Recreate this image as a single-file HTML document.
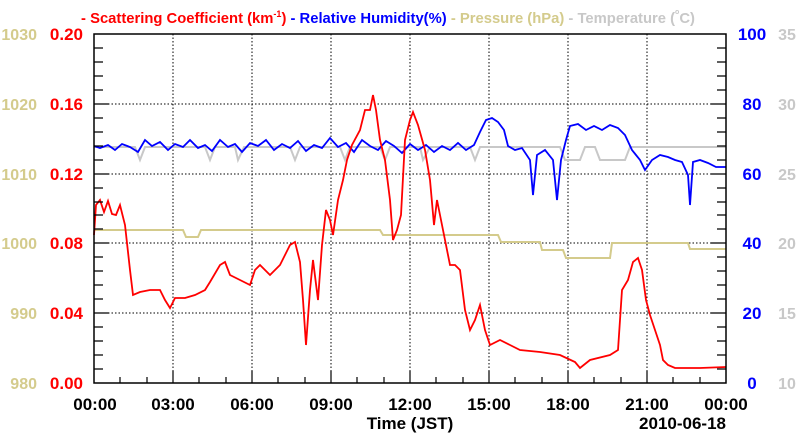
<!DOCTYPE html>
<html><head><meta charset="utf-8"><style>
body{margin:0;background:#fff}
text{font-family:"Liberation Sans",Arial,sans-serif;font-weight:bold}
</style></head><body>
<svg width="800" height="434" viewBox="0 0 800 434" xmlns="http://www.w3.org/2000/svg">
<rect width="800" height="434" fill="#fff"/>
<text x="388" y="23" font-size="14.8" text-anchor="middle"><tspan fill="#f00">- Scattering Coefficient (km</tspan><tspan fill="#f00" font-size="9" dy="-6">-1</tspan><tspan fill="#f00" dy="6">)</tspan><tspan fill="#00f"> - Relative Humidity(%)</tspan><tspan fill="#d4cb8c"> - Pressure (hPa)</tspan><tspan fill="#c8c8c8"> - Temperature (</tspan><tspan fill="#c8c8c8" font-size="7" dy="-9">o</tspan><tspan fill="#c8c8c8" dy="9">C)</tspan></text>
<g stroke="#000" stroke-width="1" stroke-dasharray="1.5,2">
<line x1="173" y1="34" x2="173" y2="383"/><line x1="252" y1="34" x2="252" y2="383"/><line x1="331" y1="34" x2="331" y2="383"/><line x1="410" y1="34" x2="410" y2="383"/><line x1="489" y1="34" x2="489" y2="383"/><line x1="568" y1="34" x2="568" y2="383"/><line x1="647" y1="34" x2="647" y2="383"/>
<line x1="94" y1="104" x2="726" y2="104"/><line x1="94" y1="174" x2="726" y2="174"/><line x1="94" y1="243" x2="726" y2="243"/><line x1="94" y1="313" x2="726" y2="313"/>
</g>
<polyline fill="none" stroke="#c8c8c8" stroke-width="2" points="94,147 135,147 140,160 145,147 205,147 210,160 215,147 235,147 238,160 244,147 290,147 295,160 300,147 340,147 345,160 350,147 380,147 385,160 390,147 420,147 423,160 430,147 470,147 475,160 480,147 560,147 565,160 580,160 585,147 595,147 600,160 625,160 630,147 726,147"/>
<polyline fill="none" stroke="#d4cb8c" stroke-width="2" points="94,230 183,230 186,237 198,237 201,230 380,230 383,235 498,235 501,242 540,242 542,250 563,250 566,258 610,258 612,243 688,243 690,249 726,249"/>
<polyline fill="none" stroke="#00f" stroke-width="1.8" points="94,146 100,148 108,145 115,150 122,144 130,147 138,152 145,140 152,146 160,142 168,150 175,144 183,147 190,140 198,148 205,145 212,151 220,140 228,147 235,144 242,152 250,143 258,146 266,140 274,150 282,144 290,148 298,141 306,151 314,145 322,148 330,138 338,147 346,143 354,152 362,140 370,146 378,150 386,141 394,146 402,153 410,144 418,150 426,145 434,152 442,146 450,150 458,143 466,150 474,145 480,132 486,120 492,118 498,122 504,130 508,146 515,150 522,148 530,160 533,195 537,155 545,150 553,160 557,200 561,160 566,140 570,126 578,124 586,130 594,126 602,130 610,125 618,128 625,135 632,150 640,160 645,170 652,160 660,155 668,157 675,160 682,162 688,175 690,205 693,162 700,160 708,163 716,167 726,167"/>
<polyline fill="none" stroke="#f00" stroke-width="1.8" points="94,235 96,205 100,200 104,212 108,201 112,214 116,215 120,205 125,225 130,270 133,295 140,292 150,290 160,290 165,300 170,308 175,298 185,298 195,295 205,290 210,282 220,265 225,262 230,275 240,280 250,285 255,270 260,265 270,275 280,265 285,255 290,245 295,242 300,262 303,300 306,345 310,290 313,260 318,300 322,245 326,210 330,220 333,235 338,200 343,180 347,160 352,145 360,130 365,110 370,110 373,95 376,110 380,140 385,160 390,200 393,240 397,230 401,215 405,140 410,120 413,112 418,125 425,150 430,180 434,225 437,200 440,215 445,240 450,265 455,265 460,270 465,310 470,330 475,320 480,305 485,330 490,345 500,340 510,345 520,350 540,352 560,355 575,362 580,368 590,360 610,355 618,350 622,290 628,280 633,262 638,258 642,270 646,300 650,315 655,330 660,345 663,360 668,365 675,368 690,368 700,368 726,367"/>
<rect x="94" y="34" width="632" height="349" fill="none" stroke="#000" stroke-width="1.5"/>
<g stroke="#000" stroke-width="1.2">
<path d="M94,48H103M94,62H103M94,76H103M94,90H103M94,104H109M94,118H103M94,132H103M94,146H103M94,160H103M94,174H109M94,188H103M94,202H103M94,215H103M94,229H103M94,243H109M94,257H103M94,271H103M94,285H103M94,299H103M94,313H109M94,327H103M94,341H103M94,355H103M94,369H103"/>
<path d="M726,48H717M726,62H717M726,76H717M726,90H717M726,104H711M726,118H717M726,132H717M726,146H717M726,160H717M726,174H711M726,188H717M726,202H717M726,215H717M726,229H717M726,243H711M726,257H717M726,271H717M726,285H717M726,299H717M726,313H711M726,327H717M726,341H717M726,355H717M726,369H717"/>
<path d="M120,383V377M147,383V377M173,383V371M199,383V377M226,383V377M252,383V371M278,383V377M305,383V377M331,383V371M357,383V377M384,383V377M410,383V371M436,383V377M463,383V377M489,383V371M515,383V377M542,383V377M568,383V371M594,383V377M621,383V377M647,383V371M673,383V377M700,383V377"/>
</g>
<g font-size="17" fill="#f00" text-anchor="end">
<text x="83" y="40">0.20</text><text x="83" y="110">0.16</text><text x="83" y="180">0.12</text><text x="83" y="249">0.08</text><text x="83" y="319">0.04</text><text x="83" y="389">0.00</text>
</g>
<g font-size="16" fill="#d4cb8c" text-anchor="end">
<text x="37" y="40" font-weight="normal">1030</text><text x="37" y="110" font-weight="normal">1020</text><text x="37" y="180" font-weight="normal">1010</text><text x="37" y="249" font-weight="normal">1000</text><text x="37" y="319" font-weight="normal">990</text><text x="37" y="389" font-weight="normal">980</text>
</g>
<g font-size="17" fill="#00f" text-anchor="middle">
<text x="752" y="40">100</text><text x="752" y="110">80</text><text x="752" y="180">60</text><text x="752" y="249">40</text><text x="752" y="319">20</text><text x="752" y="389">0</text>
</g>
<g font-size="16" fill="#c8c8c8" text-anchor="middle">
<text x="787" y="40" font-weight="normal">35</text><text x="787" y="110" font-weight="normal">30</text><text x="787" y="180" font-weight="normal">25</text><text x="787" y="249" font-weight="normal">20</text><text x="787" y="319" font-weight="normal">15</text><text x="787" y="389" font-weight="normal">10</text>
</g>
<g font-size="17" fill="#000" text-anchor="middle">
<text x="95" y="410">00:00</text><text x="173" y="410">03:00</text><text x="252" y="410">06:00</text><text x="331" y="410">09:00</text><text x="410" y="410">12:00</text><text x="489" y="410">15:00</text><text x="568" y="410">18:00</text><text x="647" y="410">21:00</text><text x="726" y="410">00:00</text>
<text x="410" y="429">Time (JST)</text>
</g>
<text x="726" y="429" font-size="17" text-anchor="end">2010-06-18</text>
</svg>
</body></html>
